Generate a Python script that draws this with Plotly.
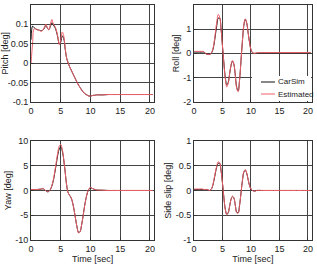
import plotly.graph_objects as go

t = [0, 0.25, 0.5, 0.75, 1, 1.25, 1.5, 1.75, 2, 2.25, 2.5, 2.75, 3, 3.25, 3.5, 3.75,
     4, 4.25, 4.5, 4.75, 5, 5.25, 5.5, 5.75, 6, 6.25, 6.5, 6.75, 7, 7.25, 7.5, 7.75,
     8, 8.25, 8.5, 8.75, 9, 9.25, 9.5, 9.75, 10, 10.25, 10.5, 10.75, 11,
     12, 13, 14, 15, 16, 17, 18, 19, 20, 20.5]

pitch_carsim = [0.06, 0.095, 0.091, 0.088, 0.086, 0.085, 0.084, 0.083, 0.085, 0.09, 0.097, 0.09,
                0.086, 0.094, 0.104, 0.098, 0.092, 0.082, 0.066, 0.05, 0.054, 0.07, 0.063, 0.035,
                0.012, 0.0, -0.01, -0.018, -0.026, -0.034, -0.042, -0.05, -0.057, -0.063, -0.069,
                -0.074, -0.078, -0.081, -0.083, -0.085, -0.085, -0.084, -0.083, -0.083, -0.082,
                -0.082, -0.081, -0.081, -0.081, -0.081, -0.081, -0.081, -0.081, -0.081, -0.081]
pitch_est = [0.0, 0.05, 0.088, 0.088, 0.086, 0.085, 0.083, 0.082, 0.085, 0.093, 0.1, 0.09,
             0.085, 0.1, 0.112, 0.1, 0.095, 0.085, 0.068, 0.047, 0.06, 0.08, 0.07, 0.038,
             0.012, 0.0, -0.01, -0.018, -0.026, -0.034, -0.042, -0.05, -0.057, -0.063, -0.069,
             -0.074, -0.078, -0.081, -0.083, -0.085, -0.085, -0.084, -0.083, -0.083, -0.082,
             -0.082, -0.081, -0.081, -0.081, -0.081, -0.081, -0.081, -0.081, -0.081, -0.081]

roll_carsim = [0.05, 0.05, 0.05, 0.05, 0.05, 0.05, 0.05, 0.05, 0.0, -0.04, -0.05, -0.04,
               0.0, 0.1, 0.35, 0.75, 1.15, 1.45, 1.45, 1.0, 0.3, -0.4, -1.0, -1.3,
               -1.2, -0.85, -0.5, -0.32, -0.45, -0.9, -1.4, -1.55, -1.1, -0.3, 0.5, 1.15,
               1.4, 1.25, 0.85, 0.45, 0.15, 0.03, 0.0, 0.0, 0.01,
               0.02, 0.02, 0.02, 0.02, 0.02, 0.02, 0.02, 0.02, 0.02, 0.02]
roll_est = [0.08, 0.08, 0.08, 0.08, 0.08, 0.08, 0.08, 0.07, 0.0, -0.04, -0.05, -0.04,
            0.0, 0.12, 0.4, 0.85, 1.3, 1.6, 1.5, 1.0, 0.3, -0.45, -1.05, -1.38,
            -1.25, -0.85, -0.48, -0.3, -0.45, -0.92, -1.45, -1.58, -1.1, -0.3, 0.52, 1.18,
            1.42, 1.25, 0.85, 0.45, 0.15, 0.03, 0.0, 0.0, 0.02,
            0.03, 0.03, 0.03, 0.03, 0.03, 0.03, 0.03, 0.03, 0.03, 0.03]

yaw_carsim = [0.2, 0.2, 0.2, 0.2, 0.2, 0.22, 0.25, 0.28, 0.35, 0.2, -0.1, -0.25,
              -0.2, 0.2, 0.9, 2.0, 3.6, 5.4, 7.2, 8.4, 8.8, 8.0, 6.2, 3.6,
              1.0, -0.5, -1.0, -1.5, -2.5, -4.0, -5.8, -7.5, -8.5, -8.3, -7.0, -5.2,
              -3.2, -1.6, -0.4, 0.3, 0.5, 0.45, 0.3, 0.2, 0.1,
              0.05, 0.0, 0.0, 0.0, 0.0, 0.0, 0.0, 0.0, 0.0, 0.0]
yaw_est = [0.2, 0.2, 0.2, 0.2, 0.2, 0.22, 0.25, 0.3, 0.45, 0.25, -0.1, -0.25,
           -0.2, 0.2, 1.0, 2.2, 3.9, 5.8, 7.7, 9.0, 9.3, 8.3, 6.3, 3.6,
           1.0, -0.5, -1.0, -1.5, -2.5, -4.0, -5.8, -7.5, -8.6, -8.3, -7.0, -5.2,
           -3.2, -1.6, -0.3, 0.4, 0.6, 0.45, 0.3, 0.2, 0.1,
           0.05, 0.0, 0.0, 0.0, 0.0, 0.0, 0.0, 0.0, 0.0, 0.0]

slip_carsim = [0.02, 0.02, 0.02, 0.02, 0.02, 0.02, 0.02, 0.02, 0.02, 0.02, 0.01, 0.0,
               0.02, 0.08, 0.2, 0.35, 0.48, 0.55, 0.55, 0.4, 0.15, -0.15, -0.38, -0.48,
               -0.45, -0.32, -0.18, -0.12, -0.15, -0.3, -0.44, -0.45, -0.3, -0.05, 0.2, 0.37,
               0.41, 0.35, 0.22, 0.1, 0.03, 0.0, -0.01, -0.01, 0.0,
               0.0, 0.0, 0.0, 0.0, 0.0, 0.0, 0.0, 0.0, 0.0, 0.0]
slip_est = [0.03, 0.03, 0.03, 0.03, 0.03, 0.03, 0.03, 0.02, 0.02, 0.02, 0.01, 0.0,
            0.02, 0.09, 0.22, 0.37, 0.5, 0.58, 0.56, 0.4, 0.15, -0.15, -0.39, -0.49,
            -0.45, -0.32, -0.18, -0.12, -0.15, -0.3, -0.45, -0.46, -0.3, -0.05, 0.2, 0.38,
            0.42, 0.35, 0.22, 0.1, 0.03, 0.0, -0.01, -0.01, 0.0,
            0.0, 0.0, 0.0, 0.0, 0.0, 0.0, 0.0, 0.0, 0.0, 0.0]

series_names = ["CarSim", "Estimated"]
x_ticks = [0, 5, 10, 15, 20]
x_ticktext = ["0", "5", "10", "15", "20"]
pitch_ticks = [-0.1, -0.05, 0, 0.05, 0.1, 0.15]
pitch_ticktext = ["-0.1", "-0.05", "0", "0.05", "0.1", "0.15"]
roll_ticks = [-2, -1, 0, 1, 2]
roll_ticktext = ["-2", "-1", "0", "1", "2"]
yaw_ticks = [-10, -5, 0, 5, 10]
yaw_ticktext = ["-10", "-5", "0", "5", "10"]
slip_ticks = [-1, -0.5, 0, 0.5, 1]
slip_ticktext = ["-1", "-0.5", "0", "0.5", "1"]

panels = [
    ("x", "y", pitch_carsim, pitch_est, "Pitch [deg]", [-0.1, 0.15], pitch_ticks, pitch_ticktext, False),
    ("x2", "y2", roll_carsim, roll_est, "Roll [deg]", [-2, 2], roll_ticks, roll_ticktext, False),
    ("x3", "y3", yaw_carsim, yaw_est, "Yaw [deg]", [-10, 10], yaw_ticks, yaw_ticktext, True),
    ("x4", "y4", slip_carsim, slip_est, "Side slip [deg]", [-1, 1], slip_ticks, slip_ticktext, True),
]
colors = ["#111111", "#f0606a"]

fig = go.Figure()
for i, (xa, ya, cs, es, title, yr, yt, ytt, showx) in enumerate(panels):
    fig.add_trace(go.Scatter(x=t, y=cs, xaxis=xa, yaxis=ya, mode="lines",
                             line=dict(color=colors[0], width=1, shape="spline"),
                             name=series_names[0], showlegend=False))
    fig.add_trace(go.Scatter(x=t, y=es, xaxis=xa, yaxis=ya, mode="lines",
                             line=dict(color=colors[1], width=1, shape="spline"),
                             name=series_names[1], showlegend=False))

font = dict(family="Liberation Sans, Arial, sans-serif", size=9, color="#222222")
legfont = dict(family="Liberation Sans, Arial, sans-serif", size=8, color="#222222")
xdoms = [[0.098, 0.486], [0.612, 0.984]]
ydoms = [[0.614, 0.982], [0.091, 0.466]]
axis_common = dict(showline=True, linecolor="#333333", linewidth=1, mirror=True,
                   showgrid=True, gridcolor="#444444", gridwidth=1, zeroline=False,
                   ticks="inside", ticklen=3, tickcolor="#333333", tickfont=font,
                   automargin=False)

layout = dict(width=317, height=264, margin=dict(l=0, r=0, t=0, b=0),
              paper_bgcolor="white", plot_bgcolor="white", font=font, showlegend=False)
for i, (xa, ya, cs, es, title, yr, yt, ytt, showx) in enumerate(panels):
    xk = "xaxis" if i == 0 else f"xaxis{i+1}"
    yk = "yaxis" if i == 0 else f"yaxis{i+1}"
    col = i % 2
    row = i // 2
    layout[xk] = dict(axis_common, domain=xdoms[col], range=[0, 20.7],
                      tickvals=x_ticks, ticktext=x_ticktext, anchor=ya,
                      title=dict(text="Time [sec]" if showx else "", font=font, standoff=2))
    layout[yk] = dict(axis_common, domain=ydoms[row], range=yr,
                      tickvals=yt, ticktext=ytt, anchor=xa,
                      title=dict(text=title, font=font, standoff=2))

# legend box drawn inside the Roll panel (paper coordinates)
leg_x0, leg_x1 = 252 / 317, 311 / 317
leg_y0, leg_y1 = 1 - 101 / 264, 1 - 76 / 264
shapes = [dict(type="rect", xref="paper", yref="paper", x0=leg_x0, x1=leg_x1,
               y0=leg_y0, y1=leg_y1, fillcolor="white", line=dict(width=0), layer="above")]
annotations = []
for k, (name, yp) in enumerate(zip(series_names, [82, 94])):
    yy = 1 - yp / 264
    shapes.append(dict(type="line", xref="paper", yref="paper", x0=261 / 317, x1=275 / 317,
                       y0=yy, y1=yy, line=dict(color=colors[k], width=1), layer="above"))
    annotations.append(dict(xref="paper", yref="paper", x=276 / 317, y=yy, text=name,
                            showarrow=False, xanchor="left", yanchor="middle",
                            font=legfont))
layout["shapes"] = shapes
layout["annotations"] = annotations

fig.update_layout(**layout)
fig.write_html("out.html")
